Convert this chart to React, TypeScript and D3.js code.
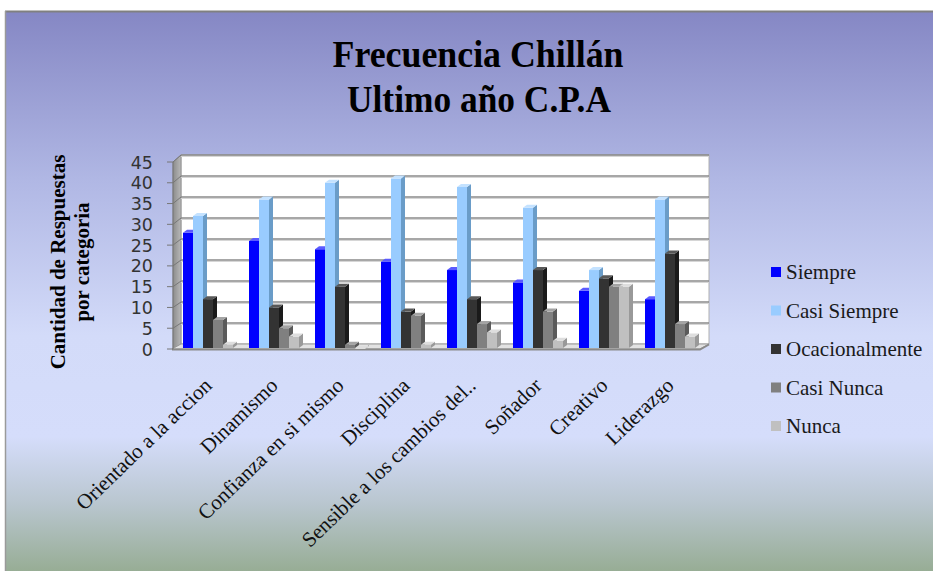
import React from "react";
import * as d3 from "d3";

const categories = [
  "Orientado a la accion",
  "Dinamismo",
  "Confianza en si mismo",
  "Disciplina",
  "Sensible a los cambios del..",
  "Soñador",
  "Creativo",
  "Liderazgo",
];
const seriesNames = ["Siempre", "Casi Siempre", "Ocacionalmente", "Casi Nunca", "Nunca"];
const siempre = [28, 26, 24, 21, 19, 16, 14, 12];
const casiSiempre = [32, 36, 40, 41, 39, 34, 19, 36];
const ocacionalmente = [12, 10, 15, 9, 12, 19, 17, 23];
const casiNunca = [7, 5, 1, 8, 6, 9, 15, 6];
const nunca = [1, 3, 0, 1, 4, 2, 15, 3];
const yTicks = [0, 5, 10, 15, 20, 25, 30, 35, 40, 45];
const titleLines = ["Frecuencia Chillán", "Ultimo año C.P.A"];
const yTitleLines = ["Cantidad de Respuestas", "por categoria"];

const seriesValues = [siempre, casiSiempre, ocacionalmente, casiNunca, nunca];
const frontColors = ["#0000ff", "#99ccff", "#333333", "#808080", "#c0c0c0"];
const sideColors = ["#0000a8", "#6a9cc8", "#1a1a1a", "#5a5a5a", "#999999"];
const topColors = ["#5a5aff", "#c4e2ff", "#585858", "#a4a4a4", "#dedede"];

export default function App() {
  const W = 933;
  const H = 571;
  const x = d3
    .scaleBand<string>()
    .domain(categories)
    .range([175, 703])
    .paddingInner(16 / 66)
    .paddingOuter(8 / 66);
  const xs = d3.scaleBand<string>().domain(seriesNames).range([0, x.bandwidth()]);
  const yF = d3.scaleLinear().domain([0, 45]).range([349, 162]);
  const yB = d3.scaleLinear().domain([0, 45]).range([344, 155]);
  const wallL = 181;
  const wallR = 709;
  const axisX = 173;
  const bdx = 4;
  const bdy = -3;

  const bars: React.ReactNode[] = [];
  categories.forEach((c, ci) => {
    seriesNames.forEach((s, si) => {
      const v = seriesValues[si][ci];
      const x0 = (x(c) as number) + (xs(s) as number);
      const w = xs.bandwidth();
      const yt = yF(v);
      const yb = yF(0) - 1;
      const front = `M${x0},${yb}L${x0 + w},${yb}L${x0 + w},${yt}L${x0},${yt}Z`;
      const side = `M${x0 + w},${yb}L${x0 + w + bdx},${yb + bdy}L${x0 + w + bdx},${yt + bdy}L${x0 + w},${yt}Z`;
      const top = `M${x0},${yt}L${x0 + w},${yt}L${x0 + w + bdx},${yt + bdy}L${x0 + bdx},${yt + bdy}Z`;
      bars.push(
        <g key={`${ci}-${si}`}>
          <path d={side} fill={sideColors[si]} />
          <path d={front} fill={frontColors[si]} />
          <path d={top} fill={topColors[si]} />
        </g>
      );
    });
  });

  return (
    <svg
      width={W}
      height={H}
      style={{ position: "absolute", left: 0, top: 0, display: "block" }}
    >
      <defs>
        <linearGradient id="bg" x1="0" y1="0" x2="0" y2="1">
          <stop offset="0" stopColor="#8587c4" />
          <stop offset="0.3" stopColor="#b0b7e4" />
          <stop offset="0.58" stopColor="#d3dbf9" />
          <stop offset="0.76" stopColor="#d5ddfb" />
          <stop offset="0.88" stopColor="#b9c6cf" />
          <stop offset="1" stopColor="#97ad95" />
        </linearGradient>
        <linearGradient id="lw" x1="0" y1="0" x2="1" y2="0">
          <stop offset="0" stopColor="#8c8c8c" />
          <stop offset="1" stopColor="#b8b8b8" />
        </linearGradient>
      </defs>
      <rect x={0} y={0} width={W} height={H} fill="#ffffff" />
      <rect x={5} y={11} width={W - 5} height={H - 11} fill="url(#bg)" />
      <line x1={5} y1={11.5} x2={W} y2={11.5} stroke="#808080" strokeWidth={2} />
      <line x1={5.5} y1={11} x2={5.5} y2={H} stroke="#9a9a9a" strokeWidth={1.5} />

      {/* Title */}
      <g fontFamily="'Liberation Serif', 'Times New Roman', serif" fontWeight="bold" fill="#000">
        <text x={478} y={67} textAnchor="middle" fontSize={38} textLength={291} lengthAdjust="spacingAndGlyphs">
          {titleLines[0]}
        </text>
        <text x={479} y={112} textAnchor="middle" fontSize={38} textLength={264} lengthAdjust="spacingAndGlyphs">
          {titleLines[1]}
        </text>
      </g>

      {/* Back wall */}
      <rect x={wallL} y={yB(45)} width={wallR - wallL} height={yB(0) - yB(45)} fill="#ffffff" stroke="#b0b0b0" strokeWidth={1} />
      {/* Left wall */}
      <path
        d={`M${axisX},${yF(45)}L${wallL},${yB(45)}L${wallL},${yB(0)}L${axisX},${yF(0)}Z`}
        fill="url(#lw)"
        stroke="#888"
        strokeWidth={0.8}
      />
      {/* Gridlines */}
      {yTicks.slice(1).map((t) => (
        <g key={t}>
          <line x1={wallL} y1={yB(t) + 1.5} x2={wallR} y2={yB(t) + 1.5} stroke="#d6d6d6" strokeWidth={1} />
          <line x1={wallL} y1={yB(t)} x2={wallR} y2={yB(t)} stroke="#8a8a8a" strokeWidth={1.6} />
          <line x1={axisX} y1={yF(t)} x2={wallL} y2={yB(t)} stroke="#777" strokeWidth={1} />
        </g>
      ))}
      {/* Floor */}
      <path
        d={`M${axisX - 1},${yF(0)}L${x.range()[1] - 3},${yF(0)}L${wallR},${yB(0)}L${wallL},${yB(0)}Z`}
        fill="#e2e2e2"
        stroke="#9a9a9a"
        strokeWidth={1}
      />
      <path
        d={`M${axisX - 1},${yF(0) + 0.5}L${x.range()[1] - 3},${yF(0) + 0.5}L${wallR},${yB(0) + 0.5}`}
        fill="none"
        stroke="#8a8a8a"
        strokeWidth={2}
      />
      {/* Y ticks */}
      {yTicks.map((t) => (
        <line key={t} x1={167} y1={yF(t)} x2={axisX} y2={yF(t)} stroke="#777" strokeWidth={1} />
      ))}
      <line x1={axisX} y1={yF(45)} x2={axisX} y2={yF(0)} stroke="#777" strokeWidth={1} />

      {/* Bars */}
      {bars}

      {/* Y tick labels */}
      <g fontFamily="'DejaVu Sans', Verdana, sans-serif" fontSize={17.5} fill="#333" textAnchor="end">
        {yTicks.map((t) => (
          <text key={t} x={153} y={yF(t) + 6.5}>
            {t}
          </text>
        ))}
      </g>

      {/* Y title */}
      <g fontFamily="'Liberation Serif', 'Times New Roman', serif" fontWeight="bold" fontSize={21} fill="#000" textAnchor="middle">
        <text transform="translate(65,262) rotate(-90)">{yTitleLines[0]}</text>
        <text transform="translate(89,262) rotate(-90)">{yTitleLines[1]}</text>
      </g>

      {/* X labels */}
      <g fontFamily="'Liberation Serif', 'Times New Roman', serif" fontSize={21} fill="#111" textAnchor="end">
        {categories.map((c) => {
          const cx = (x(c) as number) + x.bandwidth() / 2 + 5;
          return (
            <text key={c} transform={`translate(${cx},387) rotate(-44)`}>
              {c}
            </text>
          );
        })}
      </g>

      {/* Legend */}
      <g fontFamily="'Liberation Serif', 'Times New Roman', serif" fontSize={21} fill="#1a1a1a">
        {seriesNames.map((s, i) => {
          const cy = 272 + i * 38.5;
          return (
            <g key={s}>
              <rect x={771} y={cy - 5} width={10} height={10} fill={frontColors[i]} />
              <text x={786} y={cy + 7}>
                {s}
              </text>
            </g>
          );
        })}
      </g>
    </svg>
  );
}
